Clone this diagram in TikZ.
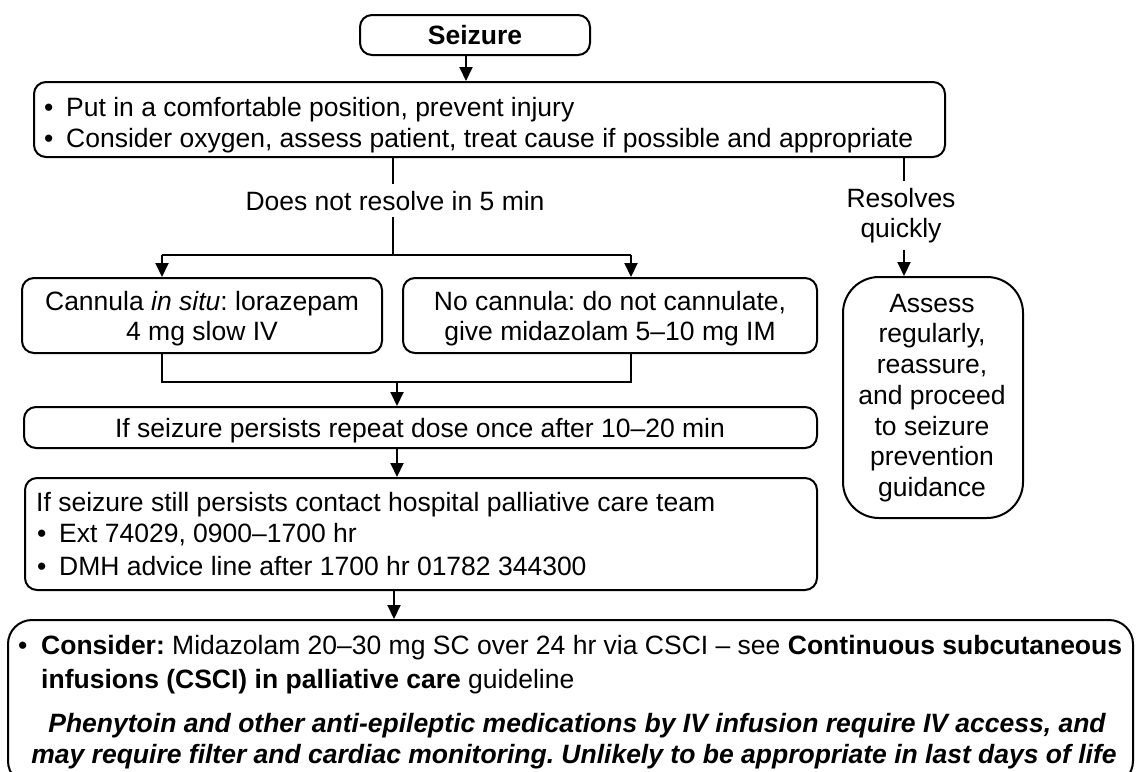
\documentclass[tikz,border=0pt]{standalone}
\usepackage{fontspec}
\setmainfont{Liberation Sans}
\usetikzlibrary{arrows.meta}
\frenchspacing
\begin{document}
\begin{tikzpicture}[x=1pt,y=-1pt,
  box/.style={draw, line width=2pt, rounded corners=12pt, inner sep=0pt},
  ln/.style={line width=2pt},
  arr/.style={line width=2pt, -{Triangle[length=14pt,width=13pt]}},
  txt/.style={inner sep=0pt, font=\fontsize{26.5}{31}\selectfont},
  lbl/.style={inner xsep=0pt, inner ysep=7pt, font=\fontsize{26.5}{30}\selectfont, align=center}]
\useasboundingbox (0,0) rectangle (1137,771);
\clip (0,0) rectangle (1137,771);

% boxes
\node[box, minimum width=230pt, minimum height=40pt] (seizure) at (475,35) {};
\node[box, minimum width=911pt, minimum height=75pt] (box2) at (489.5,119.5) {};
\node[box, minimum width=360pt, minimum height=75pt] (cann) at (202,315.5) {};
\node[box, minimum width=414pt, minimum height=75pt] (nocann) at (610,315.5) {};
\node[box, minimum width=793pt, minimum height=41pt] (rep) at (420.5,427.5) {};
\node[box, minimum width=792pt, minimum height=112pt] (contact) at (421,534) {};
\node[box, rounded corners=24pt, minimum width=1125pt, minimum height=165pt] (bottom) at (570.5,702.5) {};
\node[box, rounded corners=36pt, minimum width=180pt, minimum height=241pt] (assess) at (933,397.5) {};

% texts
\node[txt, anchor=base] (tseiz) at (475,44) {\bfseries Seizure};
\node[txt, anchor=base west] (b2a) at (44,116) {•};
\node[txt, anchor=base west] (t2a) at (66,116) {Put in a comfortable position, prevent injury};
\node[txt, anchor=base west] (b2b) at (44,147) {•};
\node[txt, anchor=base west] (t2b) at (66,147) {Consider oxygen, assess patient, treat cause if possible and appropriate};

\node[txt, anchor=base] (tcann) at (202,310) {Cannula \textit{in situ}: lorazepam};
\node[txt, anchor=base] (tcann2) at (202,340) {4 mg slow IV};
\node[txt, anchor=base] (tnoc) at (610,310) {No cannula: do not cannulate,};
\node[txt, anchor=base] (tnoc2) at (610,340) {give midazolam 5–10 mg IM};

\node[txt, anchor=base] (trep) at (420,437) {If seizure persists repeat dose once after 10–20 min};

\node[txt, anchor=base west] (tc1) at (36,511) {If seizure still persists contact hospital palliative care team};
\node[txt, anchor=base west] (bc2) at (37,542) {•};
\node[txt, anchor=base west] (tc2) at (59,542) {Ext 74029, 0900–1700 hr};
\node[txt, anchor=base west] (bc3) at (37,575) {•};
\node[txt, anchor=base west] (tc3) at (59,575) {DMH advice line after 1700 hr 01782 344300};

\node[txt, anchor=base west] (bb1) at (18,654) {•};
\node[txt, anchor=base west] (tb1) at (41,654) {\textbf{Consider:} Midazolam 20–30 mg SC over 24 hr via CSCI – see \textbf{Continuous subcutaneous}};
\node[txt, anchor=base west] (tb2) at (41,688) {\textbf{infusions (CSCI) in palliative care} guideline};
\node[txt, anchor=base] (tb3) at (577,732) {\bfseries\itshape Phenytoin and other anti-epileptic medications by IV infusion require IV access, and};
\node[txt, anchor=base] (tb4) at (574,763) {\bfseries\itshape may require filter and cardiac monitoring. Unlikely to be appropriate in last days of life};

\node[inner sep=0pt, font=\fontsize{26.5}{30.7}\selectfont, align=center] (tassess) at (932,398)
  {Assess\\regularly,\\reassure,\\and proceed\\to seizure\\prevention\\guidance};

% labels on connectors
\node[lbl, anchor=base] (lno) at (395,210) {Does not resolve in 5 min};
\node[lbl] (lres) at (901,215.5) {Resolves\\quickly};

% connectors
\coordinate (xa) at (466,0);
\draw[arr] (seizure.south -| xa) -- (box2.north -| xa);

\coordinate (xl) at (393,0);
\coordinate (split) at (393,255);
\coordinate (sl) at (162,255);
\coordinate (sr) at (631,255);
\draw[ln] (box2.south -| xl) -- (lno.north -| xl);
\draw[ln] (lno.south -| xl) -- (split);
\draw[ln] (sl) -- (sr);
\draw[arr] (sl) -- (cann.north -| sl);
\draw[arr] (sr) -- (nocann.north -| sr);

\coordinate (ml) at (162,382);
\coordinate (mr) at (631,382);
\coordinate (mm) at (397,382);
\draw[ln] (cann.south -| ml) -- (ml) -- (mr) -- (nocann.south -| mr);
\draw[arr] (mm) -- (rep.north -| mm);

\coordinate (xc) at (397,0);
\draw[arr] (rep.south -| xc) -- (contact.north -| xc);
\coordinate (xd) at (394,0);
\draw[arr] (contact.south -| xd) -- (bottom.north -| xd);

\coordinate (xr) at (904,0);
\draw[ln] (box2.south -| xr) -- (lres.north -| xr);
\draw[arr] (lres.south -| xr) -- (assess.north -| xr);
\end{tikzpicture}
\end{document}
